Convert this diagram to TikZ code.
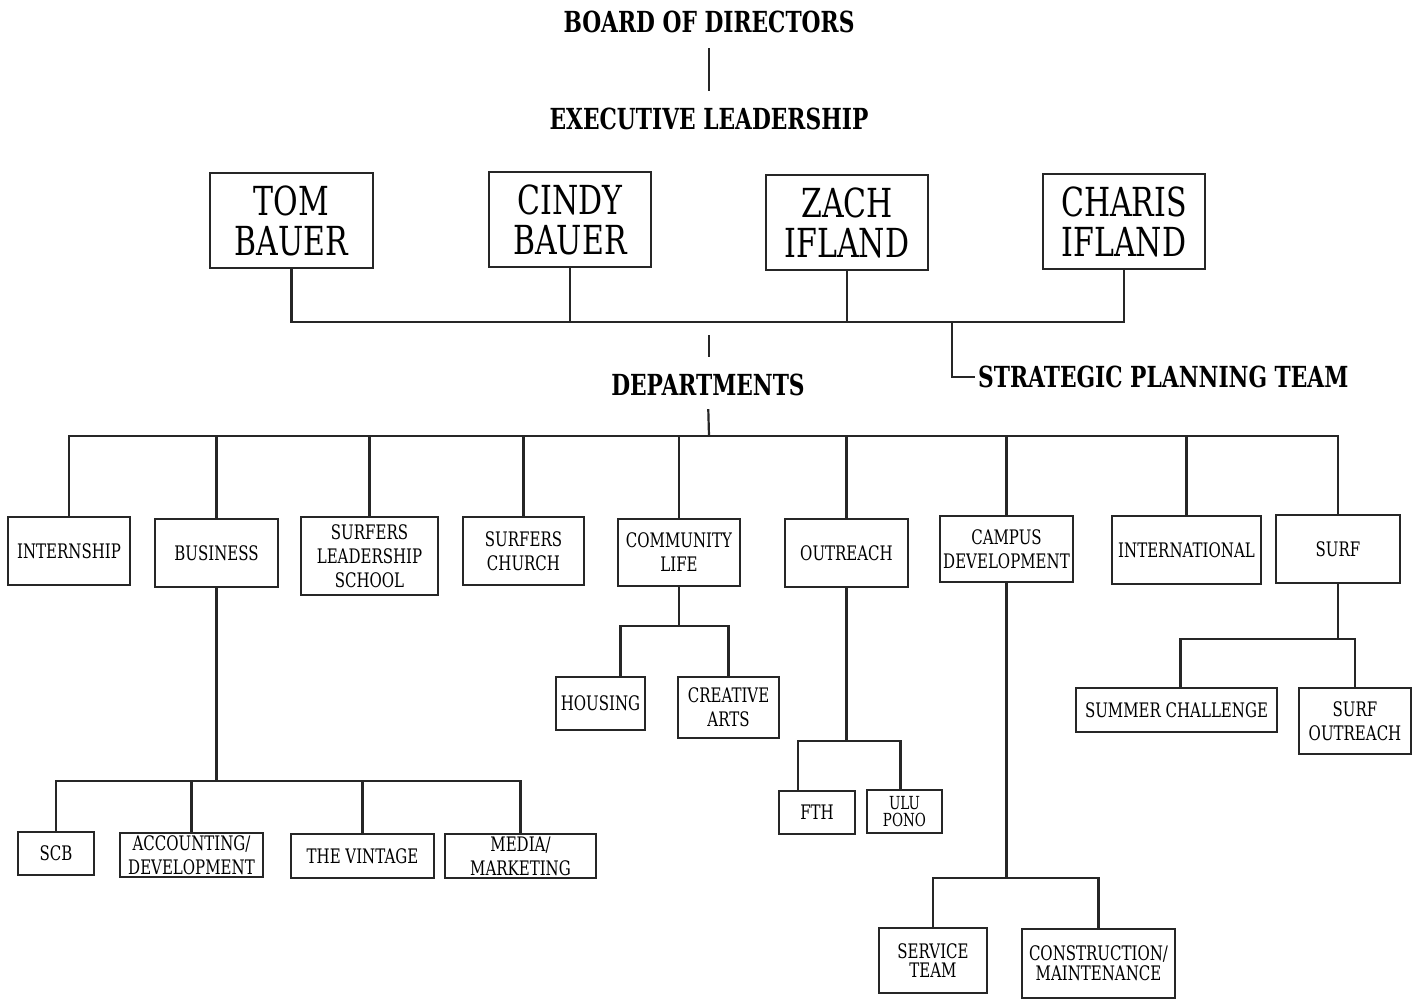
\documentclass[tikz,border=0pt]{standalone}
\usepackage{fontspec}
\setmainfont{DejaVu Serif}[FakeStretch=0.75]

\begin{document}
\begin{tikzpicture}[x=1pt, y=-1pt]
	% STYLES
	\tikzstyle{lien} = [line width=2.2pt, draw=black!85]
	\tikzstyle{boite} = [draw=black!85, line width=2.2pt, inner sep=0pt, align=center, font=\fontsize{20}{24}\selectfont]
	\tikzstyle{nom} = [boite, font=\fontsize{40}{40}\selectfont]
	\tikzstyle{titre} = [inner sep=3pt, font=\bfseries\fontsize{29}{30}\selectfont]

	\useasboundingbox (0,0) rectangle (1418,999);

	% TITRES
	\node[titre] at (709,22) (board) {BOARD OF DIRECTORS};
	\node[titre] at (709,119) (exec) {EXECUTIVE LEADERSHIP};
	\node[titre] at (708,385) (dept) {DEPARTMENTS};
	\node[titre, anchor=west] at (975,377) (strat) {STRATEGIC PLANNING TEAM};

	% DIRECTION
	\node[nom, minimum width=163, minimum height=95] at (291.5,220.5) (tom) {TOM\\BAUER};
	\node[nom, minimum width=162, minimum height=95] at (570,219.5) (cindy) {CINDY\\BAUER};
	\node[nom, minimum width=162, minimum height=95] at (847,222.5) (zach) {ZACH\\IFLAND};
	\node[nom, minimum width=162, minimum height=95] at (1124,221.5) (charis) {CHARIS\\IFLAND};

	% DEPARTEMENTS
	\node[boite, minimum width=122, minimum height=68] at (69,551) (intern) {INTERNSHIP};
	\node[boite, minimum width=123, minimum height=68] at (216.5,553) (business) {BUSINESS};
	\node[boite, minimum width=137, minimum height=78] at (369.5,556) (sls) {SURFERS\\LEADERSHIP\\SCHOOL};
	\node[boite, minimum width=121, minimum height=68] at (523.5,551) (church) {SURFERS\\CHURCH};
	\node[boite, minimum width=122, minimum height=67] at (679,552.5) (community) {COMMUNITY\\LIFE};
	\node[boite, minimum width=123, minimum height=68] at (846.5,553) (outreach) {OUTREACH};
	\node[boite, minimum width=133, minimum height=66] at (1006.5,549) (campus) {CAMPUS\\DEVELOPMENT};
	\node[boite, minimum width=149, minimum height=68] at (1186.5,550) (intl) {INTERNATIONAL};
	\node[boite, minimum width=124, minimum height=68] at (1338,549) (surf) {SURF};

	% SOUS-EQUIPES
	\node[boite, minimum width=76, minimum height=43] at (56,853.5) (scb) {SCB};
	\node[boite, minimum width=143, minimum height=44] at (191.5,855) (accounting) {ACCOUNTING/\\DEVELOPMENT};
	\node[boite, minimum width=143, minimum height=44] at (362.5,856) (vintage) {THE VINTAGE};
	\node[boite, minimum width=151, minimum height=44] at (520.5,856) (media) {MEDIA/\\MARKETING};
	\node[boite, minimum width=89, minimum height=53] at (600.5,703.5) (housing) {HOUSING};
	\node[boite, minimum width=101, minimum height=61] at (728.5,707.5) (arts) {CREATIVE\\ARTS};
	\node[boite, minimum width=76, minimum height=43] at (817,812.5) (fth) {FTH};
	\node[boite, minimum width=75, minimum height=43, font=\fontsize{18}{17}\selectfont] at (904.5,811.5) (ulu) {ULU\\PONO};
	\node[boite, minimum width=108, minimum height=65, font=\fontsize{20}{19}\selectfont] at (933,960.5) (service) {SERVICE\\TEAM};
	\node[boite, minimum width=153, minimum height=69, font=\fontsize{20}{20}\selectfont] at (1098.5,963.5) (construction) {CONSTRUCTION/\\MAINTENANCE};
	\node[boite, minimum width=201, minimum height=44] at (1176.5,710) (summer) {SUMMER CHALLENGE};
	\node[boite, minimum width=112, minimum height=66] at (1355,721) (surfout) {SURF\\OUTREACH};

	% LIENS DU HAUT
	\path[lien, shorten <=12pt, shorten >=14pt] (board.south) -- (exec.north);
	\coordinate (cadre) at (709,322);
	\path[lien] (tom.south) |- (cadre) -| (charis.south);
	\foreach \n in {cindy,zach}
		\path[lien] (\n.south) -- (\n.south |- cadre);
	\coordinate (sp) at (952,322);
	\path[lien] (sp) |- (strat.west);
	\coordinate (d0) at (709,335);
	\coordinate (d1) at (709,357);
	\path[lien] (d0) -- (d1);

	% LIENS DES DEPARTEMENTS
	\coordinate (dbus) at (709,436);
	\path[lien, shorten <=10pt] (dept.south) -- (dbus);
	\path[lien] (intern.north) |- (dbus) -| (surf.north);
	\foreach \n in {business,sls,church,community,outreach,campus,intl}
		\path[lien] (\n.north) -- (\n.north |- dbus);

	% BUSINESS
	\path[lien] (business.south) -- ++(0,193) coordinate (bbus);
	\path[lien] (scb.north) |- (bbus) -| (media.north);
	\foreach \n in {accounting,vintage}
		\path[lien] (\n.north) -- (\n.north |- bbus);

	% COMMUNITY LIFE
	\path[lien] (community.south) -- ++(0,39) coordinate (cbus);
	\path[lien] ([xshift=20pt]housing.north) |- (cbus) -| (arts.north);

	% OUTREACH
	\path[lien] (outreach.south) -- ++(0,153) coordinate (obus);
	\path[lien] ([xshift=-19pt]fth.north) |- (obus) -| ([xshift=-4pt]ulu.north);

	% CAMPUS
	\path[lien] (campus.south) -- ++(0,295) coordinate (kbus);
	\path[lien] (service.north) |- (kbus) -| (construction.north);

	% SURF
	\path[lien] (surf.south) -- ++(0,55) coordinate (sbus);
	\path[lien] ([xshift=4pt]summer.north) |- (sbus) -| (surfout.north);
\end{tikzpicture}
\end{document}
